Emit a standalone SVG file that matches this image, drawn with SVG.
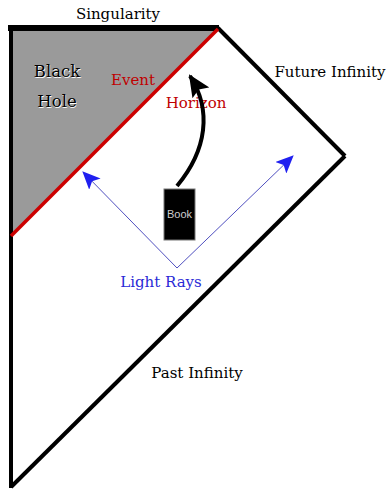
<svg xmlns="http://www.w3.org/2000/svg" width="386" height="490" viewBox="0 0 386 490">
<style>
.lbl{font-family:"DejaVu Serif","Liberation Serif",serif;font-size:15px;fill:#000}
.big{font-size:16.5px}
.red{fill:#c00000}
.blue{fill:#2a2ad6}
.sh{fill:#fff}
.edge{fill:none;stroke:#000;stroke-width:4}
.ray{fill:none;stroke:#5050c0;stroke-width:1}
</style>
<defs>
<marker id="bh" markerWidth="18" markerHeight="16" refX="17" refY="8" orient="auto" markerUnits="userSpaceOnUse" viewBox="0 0 18 16">
<path d="M0,0 L18,8 L0,16 L4,8 Z" fill="#2020f0"/>
</marker>
<marker id="kh" markerWidth="22" markerHeight="20" refX="20" refY="10" orient="auto" markerUnits="userSpaceOnUse" viewBox="0 0 22 20">
<path d="M0,0 L22,10 L0,20 L4,10 Z" fill="#000"/>
</marker>
</defs>
<g id="region-blackhole">
<polygon points="11,29 217,29 11,235" fill="#9a9a9a"/>
</g>
<g id="boundary">
<line x1="11" y1="28" x2="11" y2="488" class="edge" stroke-width="3"/>
<line x1="218" y1="28" x2="345" y2="156" class="edge"/>
<line x1="345" y1="156" x2="11" y2="487" class="edge"/>
<line x1="8" y1="28" x2="219" y2="28" stroke="#000" stroke-width="6"/>
<line x1="218" y1="29" x2="11" y2="236" stroke="#cc0000" stroke-width="3.5"/>
</g>
<g id="labels">
<text class="lbl" x="118" y="19" text-anchor="middle">Singularity</text>
<text class="lbl big sh" x="57.7" y="77.7" text-anchor="middle">Black</text>
<text class="lbl big" x="57" y="77" text-anchor="middle">Black</text>
<text class="lbl big sh" x="57.7" y="107.7" text-anchor="middle">Hole</text>
<text class="lbl big" x="57" y="107" text-anchor="middle">Hole</text>
<text class="lbl red" x="133" y="85" text-anchor="middle">Event</text>
<text class="lbl red" x="196" y="108" text-anchor="middle">Horizon</text>
<text class="lbl" x="330" y="77" text-anchor="middle">Future Infinity</text>
<text class="lbl" x="197" y="378" text-anchor="middle">Past Infinity</text>
<text class="lbl blue" x="161" y="287" text-anchor="middle">Light Rays</text>
</g>
<g id="book">
<rect x="164" y="189" width="31" height="51" fill="#000" stroke="#777" stroke-width="1"/>
<text x="179.5" y="218" text-anchor="middle" font-family="Liberation Sans,Arial,sans-serif" font-size="11" fill="#ccc">Book</text>
</g>
<g id="connectors">
<path d="M177,186 C207,150 212,110 190,76" fill="none" stroke="#000" stroke-width="4" marker-end="url(#kh)"/>
<polyline points="177,268 83,172" class="ray" marker-end="url(#bh)"/>
<polyline points="177,268 293,156" class="ray" marker-end="url(#bh)"/>
</g>
</svg>
